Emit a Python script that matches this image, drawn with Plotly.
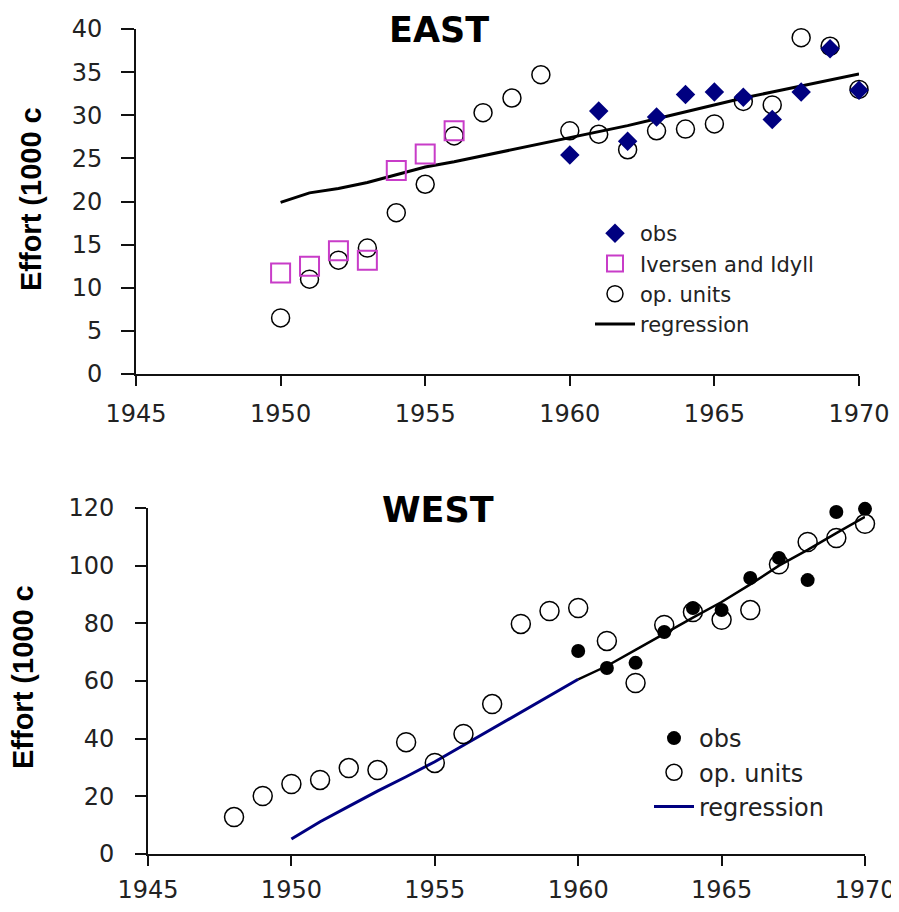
import plotly.graph_objects as go

# The page body has an 8px margin, so the figure is sized 8px smaller and
# reference pixel positions are shifted by that offset.
OFF = 8
W, H = 899 - OFF, 912 - OFF


def px(x):
    return (x - OFF) / W


def py(y):
    return (H - (y - OFF)) / H


# ---------------- EAST data ----------------
east_years = list(range(1950, 1971))
east_op_units = [6.5, 11.0, 13.2, 14.6, 18.7, 22.0, 27.6, 30.3, 32.0, 34.7,
                 28.2, 27.8, 26.0, 28.2, 28.4, 29.0, 31.6, 31.2, 39.0, 38.0, 33.0]
east_obs_years = list(range(1960, 1971))
east_obs = [25.4, 30.5, 27.0, 29.8, 32.4, 32.7, 32.1, 29.5, 32.7, 37.7, 32.9]
iversen_years = list(range(1950, 1957))
iversen_idyll = [11.7, 12.5, 14.3, 13.2, 23.6, 25.5, 28.2]
east_regression = [19.9, 21.0, 21.5, 22.2, 23.1, 24.0, 24.6, 25.3, 26.0, 26.7,
                   27.4, 28.1, 28.8, 29.6, 30.4, 31.2, 32.0, 32.7, 33.4, 34.1, 34.8]

# ---------------- WEST data ----------------
west_op_years = list(range(1948, 1971))
west_op_units = [12.8, 20.1, 24.3, 25.7, 29.8, 29.1, 38.8, 31.6, 41.6, 52.0,
                 79.8, 84.3, 85.3, 73.9, 59.3, 79.4, 83.9, 81.2, 84.6, 100.5,
                 108.2, 109.6, 114.5]
west_obs_years = list(range(1960, 1971))
west_obs = [70.4, 64.5, 66.3, 77.0, 85.3, 84.6, 95.7, 102.7, 95.0, 118.6, 119.7]
west_reg_years = list(range(1950, 1971))
west_regression = [5.2, 11.2, 16.5, 21.8, 26.8, 32.0, 37.7, 43.4, 49.0, 54.8,
                   60.6, 65.2, 70.8, 76.5, 82.0, 87.4, 93.5, 100.0, 105.5, 111.3, 116.9]

x_ticks = [1945, 1950, 1955, 1960, 1965, 1970]
east_y_ticks = [0, 5, 10, 15, 20, 25, 30, 35, 40]
west_y_ticks = [0, 20, 40, 60, 80, 100, 120]

NAVY = "#000080"
MAGENTA = "#C83CC8"
TICKFONT = dict(family="DejaVu Sans", size=24, color="#222222")

fig = go.Figure()

# EAST traces
fig.add_trace(go.Scatter(x=east_years, y=east_regression, mode="lines", name="regression",
                         line=dict(color="black", width=3), xaxis="x", yaxis="y",
                         legend="legend", legendrank=4, cliponaxis=False))
fig.add_trace(go.Scatter(x=east_years, y=east_op_units, mode="markers", name="op. units",
                         marker=dict(symbol="circle-open", size=18, color="black",
                                     line=dict(width=1.5, color="black")),
                         xaxis="x", yaxis="y", legend="legend", legendrank=3, cliponaxis=False))
fig.add_trace(go.Scatter(x=iversen_years, y=iversen_idyll, mode="markers", name="Iversen and Idyll",
                         marker=dict(symbol="square-open", size=19, color=MAGENTA,
                                     line=dict(width=2, color=MAGENTA)),
                         xaxis="x", yaxis="y", legend="legend", legendrank=2, cliponaxis=False))
fig.add_trace(go.Scatter(x=east_obs_years, y=east_obs, mode="markers", name="obs",
                         marker=dict(symbol="diamond", size=15, color=NAVY),
                         xaxis="x", yaxis="y", legend="legend", legendrank=1, cliponaxis=False))

# WEST traces
fig.add_trace(go.Scatter(x=west_reg_years[:11], y=west_regression[:11], mode="lines", name="regression",
                         line=dict(color=NAVY, width=3), xaxis="x2", yaxis="y2",
                         legend="legend2", legendrank=3, cliponaxis=False))
fig.add_trace(go.Scatter(x=west_reg_years[10:], y=west_regression[10:], mode="lines", name="fit",
                         line=dict(color="black", width=2.5), xaxis="x2", yaxis="y2",
                         showlegend=False, cliponaxis=False))
fig.add_trace(go.Scatter(x=west_op_years, y=west_op_units, mode="markers", name="op. units",
                         marker=dict(symbol="circle-open", size=19, color="black",
                                     line=dict(width=1.5, color="black")),
                         xaxis="x2", yaxis="y2", legend="legend2", legendrank=2, cliponaxis=False))
fig.add_trace(go.Scatter(x=west_obs_years, y=west_obs, mode="markers", name="obs",
                         marker=dict(symbol="circle", size=14, color="black"),
                         xaxis="x2", yaxis="y2", legend="legend2", legendrank=1, cliponaxis=False))

axis_common = dict(showline=True, linecolor="#111111", linewidth=2, showgrid=False,
                   zeroline=False, ticks="outside", tickcolor="#111111", tickwidth=2,
                   tickfont=TICKFONT, automargin=False)

fig.update_layout(
    width=W, height=H,
    margin=dict(l=0, r=0, t=0, b=0, pad=0, autoexpand=False),
    paper_bgcolor="white", plot_bgcolor="white",
    xaxis=dict(domain=[px(136), px(859)], range=[1945, 1970], tickvals=x_ticks,
               ticklen=10, ticklabelstandoff=7, anchor="y", **axis_common),
    yaxis=dict(domain=[py(374), py(29)], range=[0, 40], tickvals=east_y_ticks,
               ticklen=13, ticklabelstandoff=14, anchor="x", **axis_common),
    xaxis2=dict(domain=[px(148), px(865)], range=[1945, 1970], tickvals=x_ticks,
                ticklen=10, ticklabelstandoff=3, anchor="y2", **axis_common),
    yaxis2=dict(domain=[py(854), py(508)], range=[0, 120], tickvals=west_y_ticks,
                ticklen=11, ticklabelstandoff=16, anchor="x2", **axis_common),
    legend=dict(x=px(590), y=py(213), xanchor="left", yanchor="top",
                bgcolor="rgba(0,0,0,0)", tracegroupgap=0, itemwidth=40,
                font=dict(family="DejaVu Sans", size=21, color="#222222")),
    legend2=dict(x=px(649), y=py(716), xanchor="left", yanchor="top",
                 bgcolor="rgba(0,0,0,0)", tracegroupgap=0, itemwidth=40,
                 font=dict(family="DejaVu Sans", size=24, color="#222222")),
    showlegend=True,
)

fig.add_annotation(text="<b>EAST</b>", x=px(439), y=py(30), xref="paper", yref="paper",
                   showarrow=False, font=dict(family="DejaVu Sans", size=35, color="black"),
                   xanchor="center", yanchor="middle")
fig.add_annotation(text="<b>WEST</b>", x=px(438), y=py(510), xref="paper", yref="paper",
                   showarrow=False, font=dict(family="DejaVu Sans", size=35, color="black"),
                   xanchor="center", yanchor="middle")
fig.add_annotation(text="<b>Effort (1000 c</b>", x=px(31), y=py(199), xref="paper", yref="paper",
                   showarrow=False, textangle=-90,
                   font=dict(family="Liberation Sans", size=29, color="black"),
                   xanchor="center", yanchor="middle")
fig.add_annotation(text="<b>Effort (1000 c</b>", x=px(23), y=py(677), xref="paper", yref="paper",
                   showarrow=False, textangle=-90,
                   font=dict(family="Liberation Sans", size=29, color="black"),
                   xanchor="center", yanchor="middle")

fig.write_html("out.html")
